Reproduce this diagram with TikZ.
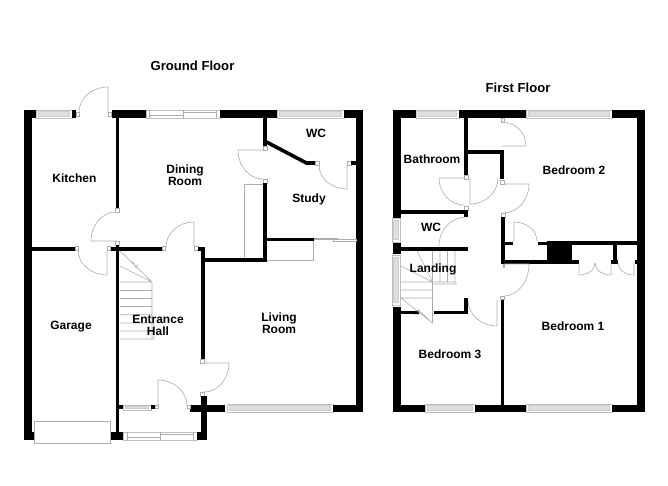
\documentclass[tikz,border=0pt]{standalone}
\usepackage{fontspec}
\setmainfont{Liberation Sans}
\usetikzlibrary{calc}
\definecolor{dl}{gray}{0.68}
\definecolor{wb}{gray}{0.87}
\tikzset{
 wallfill/.style={fill=black,draw=none},
 jamb/.style={draw=dl,fill=white,line width=.5pt},
 thinline/.style={draw=dl,line width=.6pt},
 winframe/.style={draw=dl!80,fill=white,line width=.7pt},
 winglass/.style={draw=dl!60,fill=wb,line width=.3pt},
 lbl/.style={font=\bfseries\fontsize{12}{12}\selectfont,align=center,text=black,inner sep=0pt},
 ttl/.style={font=\bfseries\fontsize{13.1}{13}\selectfont,text=black,inner sep=0pt},
}
\newcommand{\wl}[2]{\fill[wallfill] (#1) rectangle (#2);}
\newcommand{\jb}[2]{\draw[jamb] (#1) rectangle (#2);}
\newcommand{\dr}[3]{\draw[thinline] (#1) -- (#2) .. controls ($(#2)!.552!($(#2)+(#3)-(#1)$)$) and ($(#3)!.552!($(#2)+(#3)-(#1)$)$) .. (#3);}
\newcommand{\da}[3]{\draw[thinline] (#2) .. controls ($(#2)!.552!($(#2)+(#3)-(#1)$)$) and ($(#3)!.552!($(#2)+(#3)-(#1)$)$) .. (#3);}
% glass window
\newcommand{\wg}[2]{\draw[winframe] (#1) rectangle (#2);
 \draw[winglass] ($(#1)+(2.5,1.5)$) rectangle ($(#2)+(-2.5,-1.5)$);}
\newcommand{\wgv}[2]{\draw[winframe] (#1) rectangle (#2);
 \draw[winglass] ($(#1)+(1.5,2.5)$) rectangle ($(#2)+(-1.5,-2.5)$);}
\begin{document}
\begin{tikzpicture}[x=1pt,y=-1pt]
\useasboundingbox[fill=white] (0,0) rectangle (668,486);
%% ---------- GROUND FLOOR ----------
\wl{24,110}{32,440}
\wl{24,110}{36,118}
\wg{36,110}{72,118}
\wl{72,110}{76,118}
\jb{76,112}{79,116}
\jb{108,112}{111,116}
\dr{108,112}{108,87}{79,112}
\wl{111.5,110}{146,118}
% dining window
\draw[winframe] (146,110) rectangle (220,118);
\draw[thinline] (149,110)--(149,118) (183,110)--(183,118) (216,110)--(216,118) (149,115)--(183,115) (183,112.5)--(216,112.5);
\wl{220,110}{277,118}
\wg{277,110}{344,118}
\wl{344,110}{363,118}
\wl{355.7,110}{363,412}
% kitchen/dining wall
\wl{115.7,118}{119.3,208}
\jb{115.7,208}{119.3,212}
\dr{116,241}{91,241}{116,212}
\jb{115.7,241}{119.3,245}
\wl{115.7,245}{119.3,432}
% kitchen/garage wall
\wl{32,246.7}{75,250.7}
\jb{75,246.7}{78,250.7}
\jb{107,246.7}{110.5,250.7}
\dr{107,250}{107,275}{78,250}
\wl{110.5,246.7}{162,250.7}
\jb{162,246.7}{165.5,250.7}
\jb{194,246.7}{198,250.7}
\dr{194,247}{194,222}{166,247}
\wl{198,246.7}{204,250.7}
\wl{200.5,246.7}{204.5,359}
\wl{201,258}{267,262}
% study
\wl{263,118}{267,146}
\jb{263,146}{267,150}
\dr{263,150}{238,150}{263,179}
\jb{263,179}{267,183}
\wl{263,183}{267,262}
\draw[line width=3.6pt,black] (265.5,141.5)--(306.5,163)--(315,163);
\jb{315,161}{319,165}
\jb{347,161}{351,165}
\dr{347,165}{347,189}{319,165}
\wl{351,161}{356,165}
\wl{267,237.7}{314,241.3}
\draw[thinline] (244,258)--(244,184)--(263,184);
\draw[thinline] (313,241)--(313,260)--(267,260);
\draw[thinline] (314,238)rectangle(337,239.5) (333,239.5) rectangle (356,241);
% living
\jb{200.5,359}{204.5,363}
\dr{204,363}{229,363}{204,392}
\jb{200.5,392}{204.5,396}
\wl{200.5,396}{207,440}
\wl{190,405}{225,412}
\wg{227,404}{333,412}
\wl{333,404.5}{363,412}
% porch
\wl{119,405}{123,408.5}
\wg{123,405}{151,410}
\wl{151,405}{155,408.5}
\jb{155,405}{158,408.5}
\dr{158,406}{158,380}{187,406}
\jb{187,405}{190,408.5}
% front
\wl{24,432}{34,440}
\wl{110,432}{123,440}
\draw[winframe] (123,432) rectangle (197,440);
\draw[thinline] (127,432)--(127,440) (160,432)--(160,440) (193,432)--(193,440) (127,437.5)--(160,437.5) (160,434.5)--(193,434.5);
\wl{197,432}{207,440}
\draw[thinline,fill=white] (34.5,421) rectangle (110,443);
% stairs
\draw[thinline] (120,251)--(152,282)--(152,339)
 (120,266)--(152,282)
 (120,282)--(152,282) (120,290.5)--(152,290.5) (120,298.5)--(152,298.5)
 (120,306.5)--(152,306.5) (120,314.7)--(152,314.7) (120,323)--(154,323)
 (120,331)--(154,331) (120,339)--(154,339) (154,323)--(154,339)
 (133,262)--(136,268)--(138,264);
%% ---------- FIRST FLOOR ----------
\wl{393,110}{400.7,118}
\wl{393,110}{416,118}
\wg{416,110}{459,118}
\wl{459,110}{526,118}
\wg{526,110}{612,118}
\wl{612,110}{644.7,118}
\wl{636.7,110}{644.7,412}
\wl{393,110}{400.7,218}
\wgv{392,218}{400,242}
\wl{393,243}{400.7,254}
\wgv{392,255}{400,305}
\wl{393,307}{401,412}
\wl{393,405}{425,412}
\wg{425,404}{475,412}
\wl{475,405}{526,412}
\wg{526,404}{612,412}
\wl{612,405}{644.7,412}
% bathroom
\wl{464,118}{468,175}
\jb{464,175}{468,179}
\wl{468,150}{504,154}
\wl{500,150}{504,179}
\jb{501,118}{504,122}
\dr{502,146}{526,146}{502,122}
\dr{464,178}{439,178}{464,205}
\dr{470,178}{470,204}{498,178}
\jb{464,206.5}{468,210}
\wl{400,210}{468,213.5}
\wl{464,210}{468,216.7}
\wl{400,247}{468,251}
\da{466,246}{439,246}{466,217}
% right
\dr{503,184}{529,184}{503,213}
\jb{500.5,180}{504,184}
\jb{501,213}{505,217}
\wl{501,217}{505,263.5}
\wl{505,241.7}{513,245}
\dr{514,241}{514,222}{537,241}
\jb{503,263.5}{504,267}
\wl{538,241.7}{547,245}
\wl{547,241}{572,263.5}
\wl{501,260}{579,263.5}
\wl{572,241}{637,245}
\wl{613,245}{617,263}
\wl{611,260}{618,263.5}
\wl{635,260}{637,263.5}
\dr{579,263}{579,275}{595,263}
\dr{611,263}{611,275}{595,263}
\dr{634,263}{634,275}{618,263}
% door to bedroom 1
\dr{504,264}{529,264}{504,296}
\jb{500.7,296}{504.3,299.5}
\wl{500.7,299.5}{504.3,405}
% landing wall
\wl{401,311}{418,314}
\fill[black] (414,314)--(419,309.5)--(419,314)--cycle;
\wl{434,311}{468,314}
\wl{464,298}{468,314}
\dr{497,300}{497,326}{468,300}
% stairs
\draw[thinline] (432.5,251)--(432.5,323)--(401,298)
 (440,251)--(440,282) (447.5,251)--(447.5,282) (455,251)--(455,282)
 (401,282)--(455,282) (433,284)--(456,284) (456,282)--(456,284)
 (401,290)--(432.5,290) (401,298)--(432.5,298)
 (401,266)--(432.5,282) (417,251)--(432.5,282)
 (418,310)--(432.5,323);
%% ---------- LABELS ----------
\node[ttl] (gf) at (192.5,66) {Ground Floor};
\node[ttl] (ff) at (518,88) {First Floor};
\node[lbl] (k) at (74.5,178) {Kitchen};
\node[lbl] (dr) at (185,175) {Dining\\[0pt]Room};
\node[lbl] (wc1) at (316,133) {WC};
\node[lbl] (st) at (309,199) {Study};
\node[lbl] (lr) at (279,323) {Living\\[0pt]Room};
\node[lbl] (ga) at (71,326.5) {Garage};
\node[lbl] (eh) at (158,325) {Entrance\\[0pt]Hall};
\node[lbl] (ba) at (432,159) {Bathroom};
\node[lbl] (wc2) at (431,227) {WC};
\node[lbl] (la) at (433,269.5) {Landing};
\node[lbl] (b2) at (574,170) {Bedroom 2};
\node[lbl] (b1) at (573,326) {Bedroom 1};
\node[lbl] (b3) at (450,354) {Bedroom 3};
\end{tikzpicture}
\end{document}
